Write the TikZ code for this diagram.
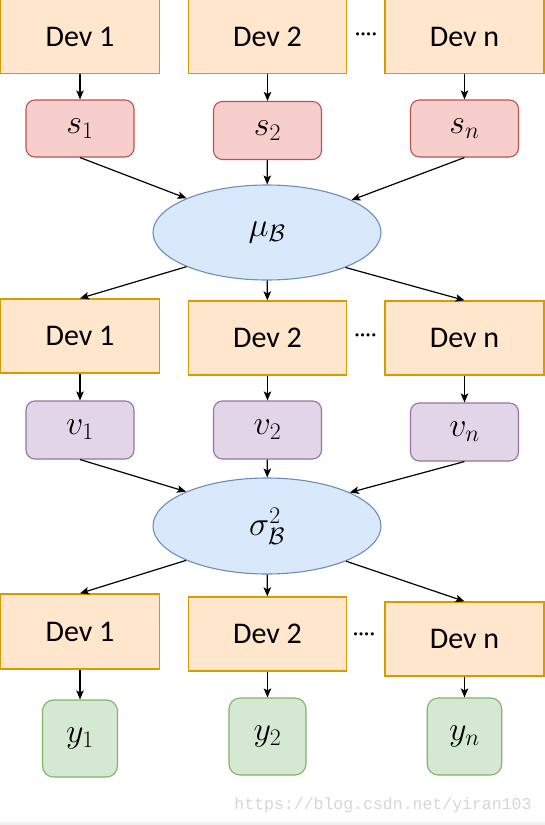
\RequirePackage{fix-cm}
\documentclass[tikz,border=0pt]{standalone}
\usepackage{fontspec}
\newfontfamily\devfont{Carlito}
\newfontfamily\wmfont{Liberation Mono}
\usetikzlibrary{shapes.geometric,arrows.meta}
\definecolor{devfill}{HTML}{FFE6CC}
\definecolor{devline}{HTML}{D79B00}
\definecolor{sfill}{HTML}{F8CECC}
\definecolor{sline}{HTML}{B85450}
\definecolor{vfill}{HTML}{E1D5E7}
\definecolor{vline}{HTML}{9673A6}
\definecolor{efill}{HTML}{DAE8FC}
\definecolor{eline}{HTML}{6C8EBF}
\definecolor{yfill}{HTML}{D5E8D4}
\definecolor{yline}{HTML}{82B366}
\definecolor{wmgray}{HTML}{D6D6D6}
\tikzset{
  devbox/.style={rectangle, draw=devline, fill=devfill, line width=1.3pt, inner sep=0pt,
    minimum width=159pt, minimum height=74pt, font=\devfont\fontsize{30}{36}\selectfont},
  sbox/.style={rectangle, rounded corners=9pt, draw=sline, fill=sfill, line width=1.1pt, inner sep=0pt,
    minimum width=108pt, minimum height=57pt, font=\fontsize{34}{40}\selectfont},
  vbox/.style={sbox, draw=vline, fill=vfill},
  ybox/.style={sbox, draw=yline, fill=yfill, rounded corners=11pt, minimum width=75pt, minimum height=77pt},
  ebox/.style={ellipse, draw=eline, fill=efill, line width=1.1pt, inner sep=0pt,
    minimum width=228pt, minimum height=96pt, font=\fontsize{34}{40}\selectfont},
  arr/.style={-{Stealth[length=9pt,width=7.5pt,inset=2pt]}, line width=1.2pt, black},
  dotsnode/.style={inner sep=0pt, font=\devfont\fontsize{22}{26}\selectfont},
}
\begin{document}
\begin{tikzpicture}[x=1pt,y=-1pt]
\useasboundingbox (0,0) rectangle (545,825);
\fill[white] (0,0) rectangle (545,825);
\def\ca{80}\def\cb{267.5}\def\cc{464.5}
% row 1
\node[devbox] (d11) at (\ca,36.5) {Dev 1};
\node[devbox, minimum width=158.5pt] (d12) at (\cb,36.5) {Dev 2};
\node[devbox] (d1n) at (\cc,36.5) {Dev n};
\node[dotsnode] (dots1) at (366,37) {····};
\node[sbox] (s1) at (\ca,128.5) {$s_1$};
\node[sbox, minimum height=58pt] (s2) at (\cb,130.5) {$s_2$};
\node[sbox] (sn) at (\cc,128.5) {$s_n$};
\node[ebox, minimum height=95pt] (mu) at (267,232.5) {$\mu_{\mathcal{B}}$};
% row 2
\node[devbox] (d21) at (\ca,336) {Dev 1};
\node[devbox, minimum width=158.5pt] (d22) at (\cb,338) {Dev 2};
\node[devbox] (d2n) at (\cc,338) {Dev n};
\node[dotsnode] (dots2) at (365.5,338) {····};
\node[vbox, minimum height=58pt] (v1) at (\ca,430) {$v_1$};
\node[vbox, minimum height=58pt] (v2) at (\cb,430) {$v_2$};
\node[vbox, minimum height=58pt] (vn) at (\cc,432) {$v_n$};
\node[ebox] (sig) at (267,526) {$\sigma^2_{\mathcal{B}}$};
% row 3
\node[devbox, minimum height=75pt] (d31) at (\ca,631.5) {Dev 1};
\node[devbox, minimum width=157.5pt] (d32) at (\cb,634) {Dev 2};
\node[devbox] (d3n) at (\cc,639) {Dev n};
\node[dotsnode] (dots3) at (364,637) {····};
\node[ybox] (y1) at (\ca,738.5) {$y_1$};
\node[ybox, minimum width=77pt] (y2) at (\cb,736.5) {$y_2$};
\node[ybox, minimum width=74.5pt] (yn) at (\cc,736.5) {$y_n$};
% watermark
\node[inner sep=0pt, text=wmgray, font=\wmfont\fontsize{16.5}{20}\selectfont] (wm) at (383,805) {https://blog.csdn.net/yiran103};
\fill[gray!12] (0,822) rectangle (545,825);
% connectors
\draw[arr] (d11) -- (s1);
\draw[arr] (d12) -- (s2);
\draw[arr] (d1n) -- (sn);
\draw[arr] (s1.south) -- (mu.157.6);
\draw[arr] (s2) -- (mu);
\draw[arr] (sn.south) -- (mu.21.9);
\draw[arr] (mu.203.1) -- (d21.north);
\draw[arr] (mu) -- (d22);
\draw[arr] (mu.336.9) -- (d2n.north);
\draw[arr] (d21) -- (v1);
\draw[arr] (d22) -- (v2);
\draw[arr] (d2n) -- (vn);
\draw[arr] (v1.south) -- (sig.157.3);
\draw[arr] (v2) -- (sig);
\draw[arr] (vn.south) -- (sig.22.2);
\draw[arr] (sig.203.6) -- (d31.north);
\draw[arr] (sig) -- (d32);
\draw[arr] (sig.336.4) -- (d3n.north);
\draw[arr] (d31) -- (y1);
\draw[arr] (d32) -- (y2);
\draw[arr] (d3n) -- (yn);
\end{tikzpicture}
\end{document}
